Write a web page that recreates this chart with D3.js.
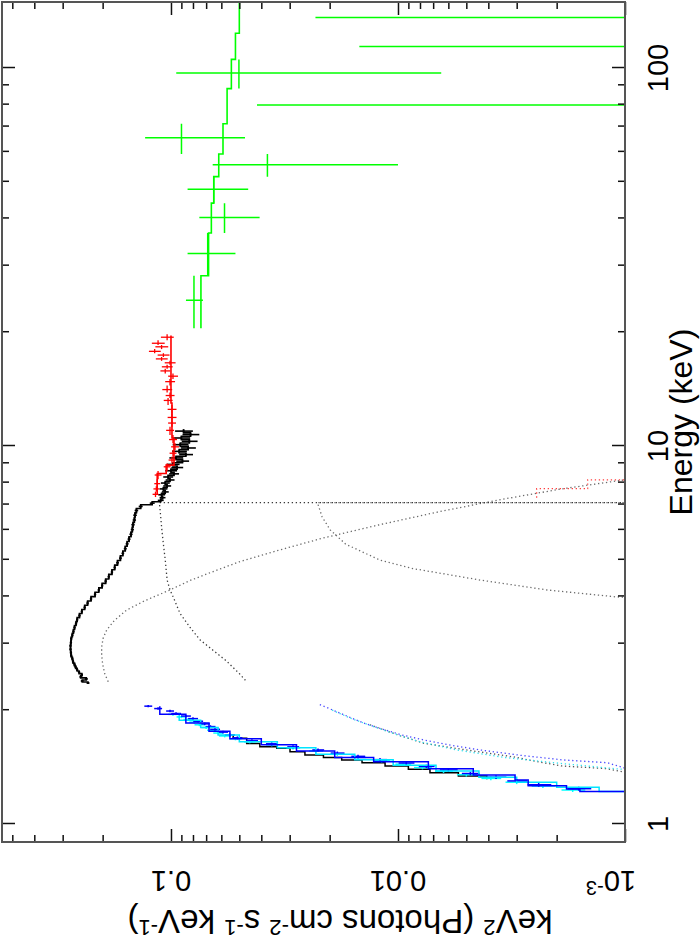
<!DOCTYPE html>
<html><head><meta charset="utf-8">
<script src="https://cdn.jsdelivr.net/npm/d3@7"></script>
<style>body{margin:0;background:#fff}svg{display:block}</style>
</head><body>
<svg id="c" width="700" height="943"></svg>
<script>
// ---------------- DATA ----------------
// Axis ticks
const energyMajor = [1, 10, 100];
const energyMinor = [2,3,4,5,6,7,8,9,20,30,40,50,60,70,80,90];
const energyLabels = ["1", "10", "100"];
const fluxMajor = [0.001, 0.01, 0.1];
const fluxMinor = [0.002,0.003,0.004,0.005,0.006,0.007,0.008,0.009,0.02,0.03,0.04,0.05,0.06,0.07,0.08,0.09,0.2,0.3,0.4,0.5];

// Black spectrum (2.4-11 keV): energy, E^2 F, relative flux error
const blackE = [2.36,2.39,2.42,2.45,2.48,2.52,2.56,2.60,2.64,2.69,2.74,2.79,2.84,2.90,2.96,3.02,3.09,3.16,3.23,3.31,3.39,3.47,3.56,3.65,3.74,3.84,3.94,4.05,4.16,4.27,4.39,4.51,4.64,4.77,4.91,5.05,5.20,5.35,5.51,5.67,5.84,6.01,6.19,6.37,6.56,6.75,6.92,7.06,7.18,7.30,7.43,7.56,7.70,7.84,7.98,8.13,8.28,8.44,8.60,8.77,8.94,9.12,9.30,9.49,9.68,9.88,10.08,10.29,10.50,10.72,10.95];
const blackF = [0.232,0.246,0.236,0.250,0.247,0.254,0.259,0.263,0.266,0.270,0.272,0.275,0.276,0.277,0.277,0.276,0.275,0.272,0.269,0.266,0.262,0.259,0.253,0.247,0.240,0.233,0.225,0.216,0.208,0.201,0.194,0.188,0.182,0.177,0.172,0.167,0.163,0.159,0.156,0.153,0.150,0.148,0.147,0.145,0.144,0.142,0.136,0.121,0.111,0.109,0.110,0.106,0.108,0.104,0.106,0.101,0.103,0.097,0.100,0.094,0.098,0.089,0.095,0.086,0.092,0.084,0.091,0.083,0.090,0.082,0.088];
const blackErr = [0.015,0.015,0.015,0.012,0.012,0.012,0.012,0.012,0.012,0.012,0.012,0.012,0.012,0.012,0.012,0.012,0.012,0.012,0.012,0.012,0.012,0.012,0.012,0.012,0.012,0.012,0.012,0.012,0.012,0.012,0.012,0.012,0.012,0.012,0.014,0.014,0.014,0.015,0.015,0.015,0.016,0.016,0.017,0.017,0.018,0.018,0.02,0.025,0.03,0.03,0.035,0.035,0.04,0.04,0.045,0.045,0.05,0.05,0.06,0.06,0.065,0.065,0.07,0.07,0.075,0.075,0.08,0.08,0.085,0.085,0.09];

// Red spectrum (7.4-20 keV)
const redE = [7.45,7.70,7.95,8.38,8.81,9.18,9.57,9.95,10.4,11.0,11.5,11.9,12.5,13.2,13.6,14.1,14.8,15.3,15.8,16.2,16.6,17.0,17.4,17.8,18.3,18.7,19.4];
const redF = [0.117,0.116,0.115,0.114,0.104,0.099,0.098,0.096,0.098,0.101,0.099,0.099,0.099,0.103,0.101,0.104,0.101,0.098,0.106,0.104,0.101,0.110,0.108,0.118,0.110,0.114,0.104];
const redErr = [0.03,0.03,0.03,0.035,0.035,0.035,0.035,0.04,0.04,0.04,0.04,0.045,0.045,0.045,0.045,0.05,0.05,0.05,0.05,0.055,0.055,0.06,0.06,0.06,0.065,0.065,0.065];
const redModelLo = [7.42, 8.46, 8.90, 10.5, 13.0, 16.0];
const redModelHi = [8.46, 8.90, 10.5, 13.0, 16.0, 19.6];
const redModelF  = [0.115, 0.105, 0.097, 0.099, 0.100, 0.100];

// Green spectrum (20-150 keV)
const greenE   = [24.3, 32.3, 40.2, 47.8, 55.5, 65.4, 79.8, 97.0, 114, 136];
const greenElo = [20.5, 28.2, 36.6, 43.9, 51.6, 59.2, 71.2, 88.2, 105.4, 123.6];
const greenEhi = [28.2, 36.6, 43.9, 51.6, 59.2, 71.2, 88.2, 105.4, 123.6, 149.5];
const greenF   = [0.0792, 0.0689, 0.0581, 0.0648, 0.0376, 0.0899, 0.0006, 0.0502, 0.0004, 0.0003];
const greenFhi = [0.0859, 0.0845, 0.0750, 0.0845, 0.0655, 0.130, 0.0418, 0.0948, 0.0148, 0.0231];
const greenFlo = [0.0723, 0.0520, 0.0407, 0.0457, 0.0100, 0.0472, 0.0001, 0.00645, 0.0001, 0.0001];
const greenModelF = [0.0738, 0.0683, 0.0664, 0.0648, 0.0616, 0.0590, 0.0566, 0.0542, 0.0520, 0.0500];

// Blue and cyan spectra (1.2-2.05 keV)
const blueE = [2.05,2.02,1.99,1.96,1.93,1.90,1.87,1.84,1.81,1.78,1.75,1.72,1.69,1.66,1.63,1.60,1.57,1.54,1.51,1.48,1.45,1.42,1.39,1.36,1.33,1.30,1.27,1.24];
const blueF = [0.126,0.114,0.101,0.095,0.086,0.080,0.076,0.071,0.067,0.064,0.059,0.055,0.051,0.044,0.036,0.029,0.0225,0.0185,0.0150,0.0120,0.0092,0.0075,0.0060,0.0048,0.0037,0.0030,0.0024,0.0016];
const blueErr = [0.04,0.04,0.04,0.05,0.05,0.05,0.05,0.05,0.05,0.05,0.05,0.05,0.05,0.06,0.06,0.06,0.06,0.07,0.07,0.07,0.08,0.08,0.09,0.09,0.1,0.1,0.12,0.12];
const cyanE = [1.95,1.92,1.89,1.86,1.83,1.80,1.77,1.74,1.71,1.68,1.65,1.62,1.59,1.56,1.53,1.50,1.47,1.44,1.41,1.38,1.35,1.32,1.29,1.26,1.23];
const cyanF = [0.098,0.090,0.084,0.079,0.075,0.070,0.066,0.062,0.058,0.052,0.045,0.036,0.029,0.0230,0.0185,0.0150,0.0118,0.0095,0.0078,0.0063,0.0050,0.0039,0.0030,0.0023,0.0017];
const cyanErr = [0.05,0.05,0.05,0.05,0.05,0.05,0.05,0.05,0.06,0.06,0.06,0.06,0.07,0.07,0.07,0.08,0.08,0.08,0.09,0.09,0.1,0.1,0.12,0.12,0.12];

// Models at low energy (histograms): bin lo, bin hi, value
const blackLowLo = [1.685,1.634,1.601,1.586,1.553,1.522,1.500,1.477,1.453,1.424,1.396,1.367,1.340,1.313];
const blackLowHi = [1.720,1.685,1.634,1.601,1.586,1.553,1.522,1.500,1.477,1.453,1.424,1.396,1.367,1.340];
const blackLowF  = [0.0532,0.0464,0.0406,0.0342,0.0299,0.0257,0.0213,0.0177,0.0144,0.0114,0.0090,0.00723,0.00542,0.00406];
const blueModLo = [1.95,1.85,1.76,1.68,1.62,1.56,1.50,1.461,1.40,1.347,1.307,1.262,1.237,1.218,1.19];
const blueModHi = [2.05,1.95,1.85,1.76,1.68,1.62,1.56,1.50,1.461,1.40,1.347,1.307,1.262,1.237,1.218];
const blueModF  = [0.112,0.086,0.068,0.055,0.040,0.028,0.019,0.0128,0.00735,0.00466,0.00305,0.00267,0.00181,0.00158,0.0008];
const cyanModLo = [1.88,1.80,1.72,1.65,1.59,1.53,1.48,1.43,1.38,1.33,1.29,1.25,1.218,1.19];
const cyanModHi = [1.96,1.88,1.80,1.72,1.65,1.59,1.53,1.48,1.43,1.38,1.33,1.29,1.25,1.218];
const cyanModF  = [0.092,0.074,0.062,0.050,0.034,0.023,0.0155,0.0105,0.0068,0.0044,0.0030,0.0020,0.0013,0.0008];

// Model components (dotted)
const bbE = [2.38,2.50,2.65,2.80,2.94,3.10,3.26,3.45,3.68,3.90,4.16,4.40,4.61,4.94,5.30,5.70,6.18,6.70,7.20,7.70,8.14,8.40];
const bbF = [0.189,0.196,0.200,0.202,0.202,0.199,0.192,0.178,0.157,0.130,0.101,0.083,0.068,0.050,0.0335,0.0216,0.0122,0.0066,0.0036,0.0019,0.00100,0.0007];
const lineE = [2.40,2.50,2.70,3.07,3.30,3.61,4.00,4.16,4.42,5.00,5.50,6.00,6.50,6.90,7.08,7.08];
const lineF = [0.047,0.050,0.057,0.0745,0.082,0.0913,0.098,0.101,0.104,0.106,0.108,0.1097,0.111,0.112,0.1125,0.0008];
const c3E = [3.95,3.99,4.16,4.42,4.74,4.99,5.50,6.00,6.50,7.00,7.08,7.08];
const c3F = [0.0008,0.0011,0.0022,0.00435,0.0086,0.0120,0.0170,0.0199,0.0216,0.0225,0.0226,0.0008];
const redDotLo = [7.30, 7.71, 8.14];
const redDotHi = [7.71, 8.14, 8.60];
const redDotF  = [0.00245, 0.00146, 0.0008];
const blueDotE = [2.07,1.95,1.85,1.79,1.72,1.67,1.62,1.57,1.52,1.477,1.453,1.40,1.38];
const blueDotF = [0.0221,0.0175,0.0142,0.0120,0.0096,0.00775,0.0060,0.00435,0.0029,0.00187,0.0012,0.00098,0.0008];
const cyanDotE = [2.00,1.90,1.80,1.72,1.65,1.57,1.50,1.45,1.40,1.38];
const cyanDotF = [0.0195,0.0160,0.0125,0.0100,0.0080,0.0055,0.0034,0.0020,0.0011,0.0008];
const grayDotE = [1.83,1.72,1.635,1.57,1.505,1.46,1.424,1.40,1.367,1.35];
const grayDotF = [0.0133,0.0100,0.0077,0.0050,0.0031,0.0024,0.0019,0.0012,0.00098,0.0008];

// ---------------- DRAWING ----------------
const W = 840, H = 623;              // energy axis length, flux axis length (inner frame)
const svg = d3.select('#c');
const xE = d3.scaleLog().domain([0.8961, 149.5]).range([0, W]);
const yF = d3.scaleLog().domain([0.001, 0.5551]).range([H, 0]);
const FONT = '"Liberation Sans", Arial, Helvetica, sans-serif';

svg.append('defs').append('clipPath').attr('id','clip')
  .append('rect').attr('x',0).attr('y',0).attr('width',W).attr('height',H);

// inner plot, rotated 90 degrees counter-clockwise
const g = svg.append('g').attr('transform','translate(2,842) rotate(-90)');
const plot = g.append('g').attr('clip-path','url(#clip)');

const line = d3.line().x(d => xE(d[0])).y(d => yF(d[1]));

function dotted(E, F, color) {
  plot.append('path').datum(E.map((e,i)=>[e,F[i]]))
    .attr('d', line).attr('fill','none').attr('stroke',color)
    .attr('stroke-width',1.3).attr('stroke-dasharray','1.3 2.7');
}
function steps(lo, hi, F, color, width, dash) {
  const pts = lo.map((l,i)=>({l, h:hi[i], f:F[i]})).sort((a,b)=>a.l-b.l);
  const arr = [];
  pts.forEach(p => { arr.push([p.l,p.f]); arr.push([p.h,p.f]); });
  const p = plot.append('path').datum(arr).attr('d', line).attr('fill','none')
    .attr('stroke',color).attr('stroke-width',width);
  if (dash) p.attr('stroke-dasharray', dash);
}
function binEdges(E) {
  return E.map((e,i) => {
    const prev = i>0 ? E[i-1] : E[i]*E[i]/E[i+1];
    const next = i<E.length-1 ? E[i+1] : E[i]*E[i]/E[i-1];
    return [Math.sqrt(Math.min(prev,next)*e), Math.sqrt(Math.max(prev,next)*e)];
  });
}
function crosses(E, F, err, color, width, connect) {
  const edges = binEdges(E);
  const grp = plot.append('g').attr('stroke',color).attr('stroke-width',width);
  E.forEach((e,i) => {
    const [lo,hi] = edges[i];
    grp.append('line').attr('x1',xE(lo)).attr('x2',xE(hi)).attr('y1',yF(F[i])).attr('y2',yF(F[i]));
    grp.append('line').attr('x1',xE(e)).attr('x2',xE(e))
      .attr('y1',yF(F[i]*(1+err[i]))).attr('y2',yF(F[i]*(1-err[i])));
  });
  if (connect) {
    steps(edges.map(d=>d[0]), edges.map(d=>d[1]), F, color, width);
  }
}

// dotted model components
dotted(bbE, bbF, '#6a6a6a');
dotted(lineE, lineF, '#3a3a3a');
dotted(c3E, c3F, '#6a6a6a');
dotted(grayDotE, grayDotF, '#555');
dotted(blueDotE, blueDotF, '#4a4aff');
dotted(cyanDotE, cyanDotF, '#33e0ee');
steps(redDotLo, redDotHi, redDotF, '#ff4040', 1.2, '1.3 2.7');

// low-energy models and data
steps(blackLowLo, blackLowHi, blackLowF, '#000', 1.5);
crosses(cyanE, cyanF, cyanErr, '#00ffff', 1.5);
crosses(blueE, blueF, blueErr, '#0000ff', 1.5);
steps(cyanModLo, cyanModHi, cyanModF, '#00e5ff', 1.5);
steps(blueModLo, blueModHi, blueModF, '#0000ff', 1.5);

// black spectrum
crosses(blackE, blackF, blackErr, '#000', 1.6, true);

// red spectrum
crosses(redE, redF, redErr, '#ff0000', 1.3);
steps(redModelLo, redModelHi, redModelF, '#ff0000', 1.6);

// green spectrum
const gg = plot.append('g').attr('stroke','#00ff00').attr('stroke-width',1.5);
greenE.forEach((e,i) => {
  gg.append('line').attr('x1',xE(greenElo[i])).attr('x2',xE(greenEhi[i]))
    .attr('y1',yF(greenF[i])).attr('y2',yF(greenF[i]));
  gg.append('line').attr('x1',xE(e)).attr('x2',xE(e))
    .attr('y1',yF(greenFhi[i])).attr('y2',yF(greenFlo[i]));
});
steps(greenElo, greenEhi, greenModelF, '#00ff00', 1.6);

// ticks (inward on all four sides)
function tickAxis(axisFn, scale, vals, size, transform) {
  const a = axisFn(scale).tickValues(vals).tickSize(-size).tickFormat('');
  const sel = g.append('g').attr('transform', transform).call(a);
  sel.select('.domain').remove();
  sel.selectAll('line').attr('stroke','#111').attr('stroke-width',1.5);
}
tickAxis(d3.axisBottom, xE, energyMajor, 13, `translate(0,${H})`);
tickAxis(d3.axisBottom, xE, energyMinor, 7, `translate(0,${H})`);
tickAxis(d3.axisTop, xE, energyMajor, 13, 'translate(0,0)');
tickAxis(d3.axisTop, xE, energyMinor, 7, 'translate(0,0)');
tickAxis(d3.axisLeft, yF, fluxMajor, 13, 'translate(0,0)');
tickAxis(d3.axisLeft, yF, fluxMinor, 7, 'translate(0,0)');
tickAxis(d3.axisRight, yF, fluxMajor, 13, `translate(${W},0)`);
tickAxis(d3.axisRight, yF, fluxMinor, 7, `translate(${W},0)`);

// frame
g.append('rect').attr('x',0).attr('y',0).attr('width',W).attr('height',H)
  .attr('fill','none').attr('stroke','#555').attr('stroke-width',2);

// ---------- labels (screen coordinates) ----------
const sx = v => 2 + yF(v);          // screen x of a flux value
const sy = v => 842 - xE(v);        // screen y of an energy value

energyMajor.forEach((v,i) => {
  svg.append('text').attr('x',668).attr('y',sy(v))
    .attr('transform',`rotate(-90,668,${sy(v)})`)
    .attr('text-anchor','middle').attr('font-family',FONT).attr('font-size',29)
    .attr('fill','#000').text(energyLabels[i]);
});
svg.append('text').attr('x',692).attr('y',422)
  .attr('transform','rotate(-90,692,422)')
  .attr('text-anchor','middle').attr('font-family',FONT).attr('font-size',32)
  .attr('fill','#000').text('Energy (keV)');

// flux labels (upside down)
function fluxLabel(v, parts, shift) {
  const x = sx(v) + shift;
  const t = svg.append('text').attr('x',x).attr('y',871)
    .attr('transform',`rotate(180,${x},871)`)
    .attr('text-anchor','middle').attr('font-family',FONT).attr('font-size',29).attr('fill','#000');
  parts.forEach(p => {
    const ts = t.append('tspan').text(p.t);
    if (p.sup) ts.attr('font-size',20).attr('dy',-10);
  });
}
fluxLabel(0.1, [{t:'0.1'}], 0);
fluxLabel(0.01, [{t:'0.01'}], 0);
fluxLabel(0.001, [{t:'10'},{t:'-3',sup:true}], -14);

// y title (upside down)
const title = svg.append('text').attr('x',340).attr('y',910)
  .attr('transform','rotate(180,340,910)')
  .attr('text-anchor','middle').attr('font-family',FONT).attr('font-size',33).attr('fill','#000');
[['keV',0],['2',1],[' (Photons cm',-1],['-2',1],[' s',-1],['-1',1],[' keV',-1],['-1',1],[')',-1]].forEach(([t,s]) => {
  const ts = title.append('tspan').text(t);
  if (s === 1) ts.attr('font-size',22).attr('dy',-10);
  if (s === -1) ts.attr('dy',10);
});
</script>
</body></html>
